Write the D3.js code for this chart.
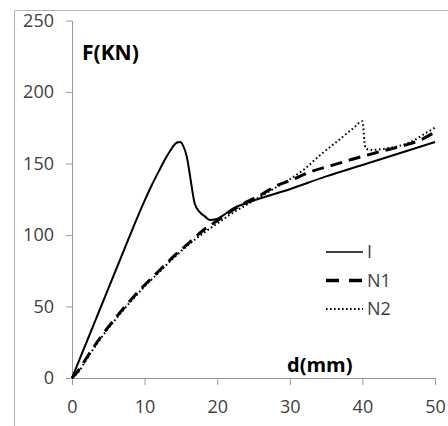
<!DOCTYPE html>
<html>
<head>
<meta charset="utf-8">
<script src="https://cdn.jsdelivr.net/npm/d3@7"></script>
<style>
  html, body { margin: 0; padding: 0; background: #fff; }
  svg { display: block; font-family: "Open Sans", "Liberation Sans", sans-serif; }
</style>
</head>
<body>
<svg id="chart" width="448" height="426"></svg>
<script>
// ---- data ----
const seriesNames = ["I", "N1", "N2"];
const xTicks = [0, 10, 20, 30, 40, 50];
const yTicks = [0, 50, 100, 150, 200, 250];

const I_d = [0, 2, 4, 6, 8, 10, 11, 12, 13, 13.8, 14.4, 14.9, 15.3, 15.8, 16.3, 16.9, 17.6, 18.3, 19.0, 19.8, 20.6, 22, 25, 30, 35, 40, 45, 50];
const I_F = [0, 25, 50, 75, 100, 124, 135, 145, 154.5, 161, 164.5, 165, 162.5, 155, 140, 122, 116, 113, 110.5, 111, 113, 118, 124, 132, 141, 149, 157, 165];

const N1_d = [0, 1, 2, 4, 6, 8, 10, 12, 14, 16, 18, 20, 22, 24, 26, 28, 30, 33, 36, 40, 43, 46, 48, 50];
const N1_F = [0, 6, 14, 29, 42, 54, 65, 75, 85, 94, 103, 110, 117, 123, 128, 134, 138, 144.5, 149, 155, 159, 163, 166.5, 172];

const N2_d = [0, 1, 2, 4, 6, 8, 10, 12, 14, 16, 18, 20, 22, 24, 26, 28, 30, 32, 34.2, 36.9, 38.7, 40, 40.4, 41, 43.3, 46.6, 49.3, 50];
const N2_F = [0, 5, 13, 28, 41, 53, 64, 74, 84, 93, 101, 108, 115, 121, 127, 133, 139, 146, 156, 167, 174.5, 179.5, 161, 159.5, 160.5, 165, 173, 175];

// ---- chart ----
const svg = d3.select("#chart");
const x = d3.scaleLinear().domain([0, 50]).range([72, 435]);
const y = d3.scaleLinear().domain([0, 250]).range([378, 20.5]);

// frame (top & left edges)
svg.append("line").attr("x1", 14.5).attr("x2", 448).attr("y1", 10.5).attr("y2", 10.5)
  .attr("stroke", "#b5b5b5").attr("stroke-width", 1);
svg.append("line").attr("x1", 14.5).attr("x2", 14.5).attr("y1", 10.5).attr("y2", 426)
  .attr("stroke", "#b5b5b5").attr("stroke-width", 1);

const axisColor = "#9a9a9a";
const textColor = "#404040";

const gx = svg.append("g").attr("transform", `translate(0,${y(0)})`)
  .call(d3.axisBottom(x).tickValues(xTicks).tickSize(7).tickSizeOuter(0).tickPadding(15));
const gy = svg.append("g").attr("transform", `translate(${x(0)},0)`)
  .call(d3.axisLeft(y).tickValues(yTicks).tickSize(6).tickSizeOuter(0).tickPadding(12));

[gx, gy].forEach(g => {
  g.select(".domain").attr("stroke", axisColor);
  g.selectAll(".tick line").attr("stroke", axisColor);
  g.selectAll(".tick text").attr("fill", textColor).style("font-size", "18px")
    .style("font-family", "'Open Sans', sans-serif");
});

// series
const styles = {
  I:  { dash: null, width: 2, lw: 1.4, ldash: null },
  N1: { dash: "12,7", width: 3, lw: 3.5, ldash: "13,10" },
  N2: { dash: "1.6,2.6", width: 2, lw: 1.8, ldash: "1.6,2.4" }
};
const dataSets = {
  I: I_d.map((d, i) => [d, I_F[i]]),
  N1: N1_d.map((d, i) => [d, N1_F[i]]),
  N2: N2_d.map((d, i) => [d, N2_F[i]])
};
const line = d3.line().x(d => x(d[0])).y(d => y(d[1])).curve(d3.curveMonotoneX);

["N2", "N1", "I"].forEach(name => {
  const s = styles[name];
  const p = svg.append("path").datum(dataSets[name]).attr("d", line)
    .attr("fill", "none").attr("stroke", "#000").attr("stroke-width", s.width)
    .attr("stroke-linejoin", "round");
  if (s.dash) p.attr("stroke-dasharray", s.dash);
});

// axis titles
svg.append("text").attr("x", 82).attr("y", 60).text("F(KN)")
  .style("font-size", "21px").style("font-weight", "bold").attr("fill", "#000");
svg.append("text").attr("x", 287).attr("y", 372).text("d(mm)")
  .style("font-size", "20px").style("font-weight", "bold").attr("fill", "#000");

// legend
const lg = svg.append("g");
seriesNames.forEach((name, i) => {
  const s = styles[name];
  const yy = 252 + i * 28.5;
  const l = lg.append("line").attr("x1", 326).attr("x2", 363).attr("y1", yy).attr("y2", yy)
    .attr("stroke", "#000").attr("stroke-width", s.lw);
  if (s.ldash) l.attr("stroke-dasharray", s.ldash);
  lg.append("text").attr("x", 367).attr("y", yy + 6).text(name)
    .style("font-size", "18px").attr("fill", textColor);
});
</script>
</body>
</html>
